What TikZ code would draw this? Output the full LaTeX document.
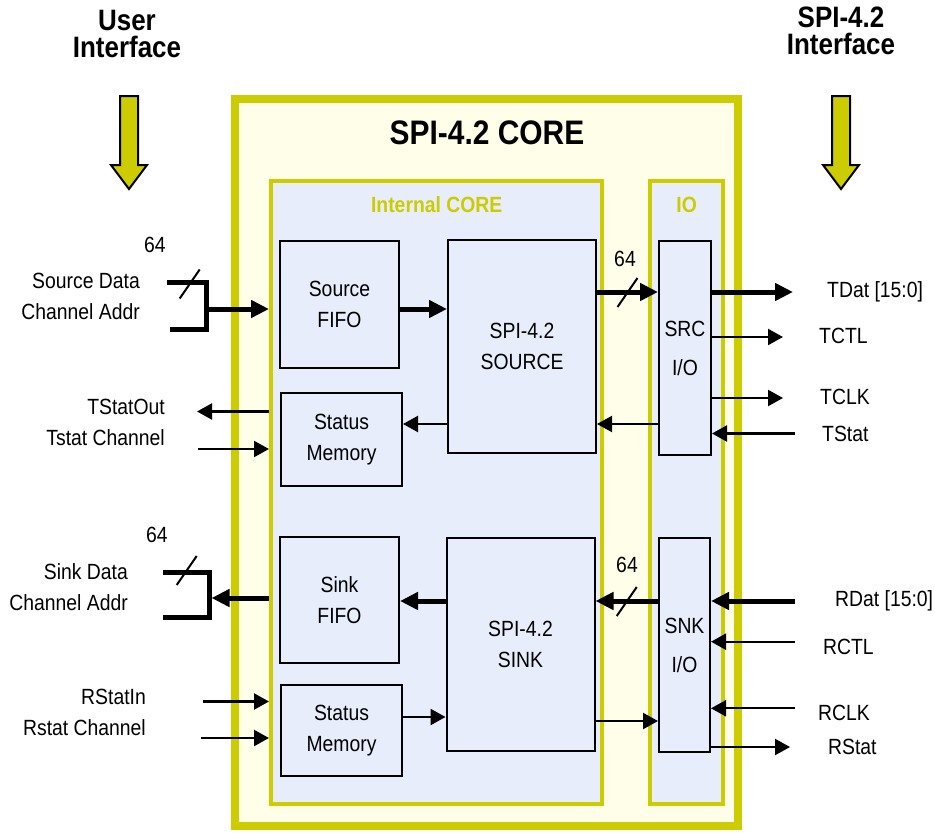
\documentclass[tikz,border=0pt]{standalone}
\usepackage{fontspec}
\setmainfont[FakeStretch=0.88]{Liberation Sans}
\usetikzlibrary{arrows.meta,calc,positioning}
\definecolor{CoreYellow}{HTML}{CCCC00}
\definecolor{CoreCream}{HTML}{FFFFE9}
\definecolor{BlockBlue}{HTML}{E7EDFA}
\newcommand\sigfont{\fontsize{22}{31}\selectfont}
\newcommand\headfont{\bfseries\fontsize{29.5}{27}\selectfont}
\newcommand\titlefont{\bfseries\fontsize{34}{40}\selectfont}
\newcommand\subfont{\bfseries\fontsize{22}{26}\selectfont}

\begin{document}
\begin{tikzpicture}[
  x=1pt, y=-1pt,
  line join=miter,
  >={Triangle[length=15pt,width=16pt]},
  corebox/.style={draw=CoreYellow, line width=8pt, fill=CoreCream},
  subbox/.style={draw=CoreYellow, line width=4pt, fill=BlockBlue},
  blk/.style={draw=black, line width=2pt, fill=BlockBlue, align=center,
    inner sep=0pt, font=\sigfont},
  lbl/.style={font=\sigfont, inner sep=0pt},
  sublbl/.style={font=\subfont, text=CoreYellow, inner sep=0pt},
  head/.style={font=\headfont, align=center, inner sep=0pt},
  sig/.style={line width=2.2pt, ->},
  bus/.style={line width=5pt, -{Triangle[length=18pt,width=17pt]}},
  buswire/.style={line width=5pt},
  busmark/.style={line width=2pt},
  bigarrow/.style={draw=black, line width=2pt, fill=CoreYellow}
]
\useasboundingbox (0,0) rectangle (935,833);

% === Interface headings with the big arrows ===
\node[head] (userhd) at (127,33.5) {User\\Interface};
\node[head] (spihd) at (841,30.5) {SPI-4.2\\Interface};
\foreach \cx in {129,841} {
  \draw[bigarrow] (\cx-9,96) -- (\cx+9,96) -- (\cx+9,165) -- (\cx+18,165)
    -- (\cx,189) -- (\cx-18,165) -- (\cx-9,165) -- cycle;
}

% === Core frames ===
\node[corebox, minimum width=503pt, minimum height=727pt] (core) at (486.5,462.5) {};
\node[font=\titlefont, inner sep=0pt] (coretitle) at (487,133) {SPI-4.2 CORE};
\node[subbox, minimum width=331pt, minimum height=623.5pt] (intcore) at (436.5,492.25) {};
\node[subbox, minimum width=73pt, minimum height=623.5pt] (iobox) at (686.4,492.25) {};
\node[sublbl] (intlbl) at (436.7,205) {Internal CORE};
\node[sublbl] (iolbl) at (686.7,205) {IO};

% === Blocks ===
\node[blk, minimum width=119pt, minimum height=127pt] (srcfifo) at (339.5,304.5) {Source\\FIFO};
\node[blk, minimum width=148pt, minimum height=213pt] (srcblk) at (522,346.5) {SPI-4.2\\SOURCE};
\node[blk, minimum width=121pt, minimum height=93pt] (tstatmem) at (341.5,439.5) {Status\\Memory};
\node[blk, minimum width=52pt, minimum height=214pt] (srcio) at (685,348) {SRC\\[8pt]I/O};
\node[blk, minimum width=119pt, minimum height=126pt] (snkfifo) at (339.5,600) {Sink\\FIFO};
\node[blk, minimum width=148pt, minimum height=213pt] (snkblk) at (520.5,644.5) {SPI-4.2\\SINK};
\node[blk, minimum width=121pt, minimum height=91pt] (rstatmem) at (341.5,730.5) {Status\\Memory};
\node[blk, minimum width=51pt, minimum height=214pt] (snkio) at (684.5,645) {SNK\\[8pt]I/O};

% Rows of the connectors
\foreach \nm/\yy in {rSrcIn/309, rTx/292, rTback/424, rRx/601,
                     rMemSnk/717, rSnkOut/721} {
  \coordinate (\nm) at (0,\yy);
}

% === Source path ===
\coordinate (srcA) at (167,282);
\coordinate (srcJ) at (206,309);
\coordinate (srcB) at (170,329);
\draw[buswire] (srcA) -- (srcA -| srcJ) -- (srcB -| srcJ) -- (srcB);
\draw[bus] (srcJ) -- (intcore.west |- srcJ);
\draw[bus] (srcfifo.east |- rSrcIn) -- (srcblk.west |- rSrcIn);
\draw[bus] (srcblk.east |- rTx) -- (srcio.west |- rTx);
\draw[sig] (srcio.west |- rTback) -- (srcblk.east |- rTback);
\draw[sig] (srcblk.west |- rTback) -- (tstatmem.east |- rTback);

% Status of the source side
\coordinate (TStatOutEnd) at (197,411.5);
\coordinate (TstatChEnd) at (198,449);
\draw[sig] (intcore.west |- TStatOutEnd) -- (TStatOutEnd);
\draw[sig] (TstatChEnd) -- (intcore.west |- TstatChEnd);

% === Sink path ===
\coordinate (snkA) at (163,572);
\coordinate (snkJ) at (209,598);
\coordinate (snkB) at (163,617);
\draw[buswire] (snkA) -- (snkA -| snkJ) -- (snkB -| snkJ) -- (snkB);
\draw[bus] (intcore.west |- snkJ) -- ([xshift=2.5pt]snkJ);
\draw[bus] (snkblk.west |- rRx) -- (snkfifo.east |- rRx);
\draw[bus] (snkio.west |- rRx) -- (snkblk.east |- rRx);
\draw[sig] (rstatmem.east |- rMemSnk) -- (snkblk.west |- rMemSnk);
\draw[sig] (snkblk.east |- rSnkOut) -- (snkio.west |- rSnkOut);

% Status of the sink side
\coordinate (RStatInEnd) at (203,701.5);
\coordinate (RstatChEnd) at (201,738);
\draw[sig] (RStatInEnd) -- (intcore.west |- RStatInEnd);
\draw[sig] (RstatChEnd) -- (intcore.west |- RstatChEnd);

% === Line side of the I/O blocks ===
\coordinate (TDatEnd) at (793,292);
\coordinate (RDatEnd) at (795,601);
\draw[bus] (srcio.east |- TDatEnd) -- (TDatEnd);
\draw[bus] (RDatEnd) -- (snkio.east |- RDatEnd);
% thin outputs
\foreach \io/\nm/\yy/\xx in {srcio/TCTL/337/783, srcio/TCLK/398/783, snkio/RStat/747/790} {
  \coordinate (\nm End) at (\xx,\yy);
  \draw[sig] (\io.east |- \nm End) -- (\nm End);
}
% thin inputs
\foreach \io/\nm/\yy in {srcio/TStat/433.5, snkio/RCTL/641.7, snkio/RCLK/708.3} {
  \coordinate (\nm End) at (795,\yy);
  \draw[sig] (\nm End) -- (\io.east |- \nm End);
}

% Bus width marks
\coordinate (srcMark) at (189.7,283.5);
\coordinate (snkMark) at (186.7,570);
\coordinate (txMark) at ($(srcblk.east |- rTx)!0.5!(srcio.west |- rTx)$);
\coordinate (rxMark) at ($(snkblk.east |- rRx)!0.5!(snkio.west |- rRx)$);
\foreach \c in {srcMark, snkMark, txMark, rxMark} {
  \draw[busmark] ([shift={(-10,15)}]\c) -- ([shift={(10,-14)}]\c);
}
\node[lbl] (srcw) at (155,245) {64};
\node[lbl] (snkw) at (157,535) {64};
\node[lbl] (txw) at (625,259) {64};
\node[lbl] (rxw) at (627,565) {64};

% === Signal names ===
\node[lbl, anchor=east, align=right] (srcdatlbl) at (140,296) {Source Data\\Channel Addr};
\node[lbl, anchor=east, align=right] (tstatlbl) at (165,422.5) {TStatOut\\Tstat Channel};
\node[lbl, anchor=east, align=right] (snkdatlbl) at (128,586.7) {Sink Data\\Channel Addr};
\node[lbl, anchor=east, align=right] (rstatlbl) at (146,712) {RStatIn\\Rstat Channel};
\foreach \nm/\xx/\yy/\txt in {TDat/827/292/{TDat [15:0]}, TCTL/819/336/TCTL,
    TCLK/820/397/TCLK, TStat/822/434/TStat, RDat/835/601/{RDat [15:0]},
    RCTL/823/647/RCTL, RCLK/818/713/RCLK, RStat/828/747/RStat} {
  \node[lbl, anchor=west] (\nm lbl) at (\xx,\yy) {\txt};
}

\end{tikzpicture}
\end{document}
